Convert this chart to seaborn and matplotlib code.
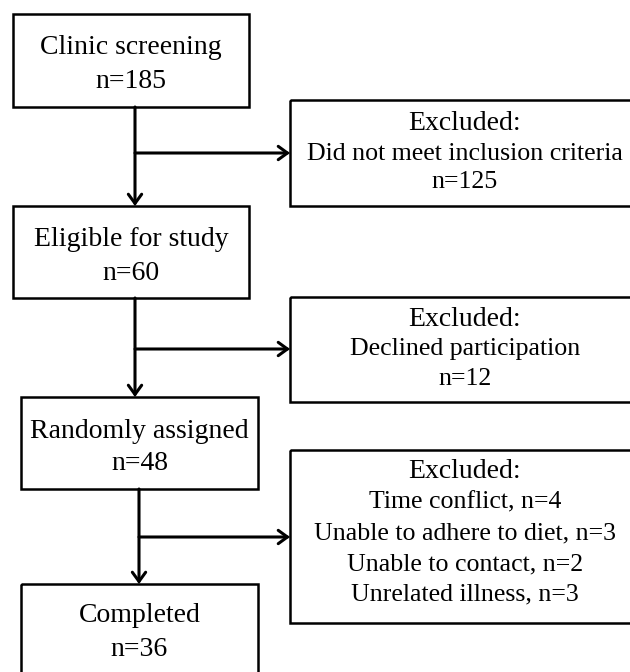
import matplotlib
matplotlib.use("Agg")
import matplotlib.pyplot as plt
from matplotlib.patches import Rectangle
import seaborn as sns

sns.set_theme(style="white")
plt.rcParams['font.family'] = ['Liberation Serif', 'DejaVu Serif']

# ---- data ----
main_labels = ["Clinic screening", "Eligible for study", "Randomly assigned", "Completed"]
main_counts = [185, 60, 48, 36]
excluded_title = "Excluded:"
excluded_reasons = [
    ["Did not meet inclusion criteria"],
    ["Declined participation"],
    ["Time conflict", "Unable to adhere to diet", "Unable to contact", "Unrelated illness"],
]
excluded_counts = [
    [125],
    [12],
    [4, 3, 2, 3],
]

# ---- layout (pixel coordinates, y downwards) ----
main_boxes = [(13, 14, 249, 107), (13, 206, 249, 298), (21, 397, 258, 489), (21, 584, 258, 690)]
main_text_y = [(48, 81), (240, 273), (431, 464), (616, 649)]
excl_boxes = [(290, 100, 645, 206), (290, 297, 645, 402), (290, 450, 645, 623)]
excl_text_y = [[124, 154, 182], [320, 349, 379], [472, 502, 533, 564, 594]]
stem_x = [135, 135, 139]
branch_y = [153, 349, 537]

W, H = 630, 672
fig = plt.figure(figsize=(W / 100, H / 100), dpi=100)
ax = fig.add_axes([0, 0, 1, 1])
ax.set_xlim(0, W)
ax.set_ylim(H, 0)
ax.axis("off")

FS = 20
FS_EX = 18.6
LW = 1.8

def box(b):
    x0, y0, x1, y1 = b
    ax.add_patch(Rectangle((x0, y0), x1 - x0, y1 - y0, fill=False,
                           edgecolor="black", linewidth=LW, clip_on=False))

for b, lab, n, (ty1, ty2) in zip(main_boxes, main_labels, main_counts, main_text_y):
    box(b)
    cx = (b[0] + b[2]) / 2
    ax.text(cx, ty1, lab, ha="center", va="center", fontsize=FS, color="black")
    ax.text(cx, ty2, f"n={n}", ha="center", va="center", fontsize=FS, color="black")

for i, b in enumerate(excl_boxes):
    box(b)
    cx = 465
    reasons = excluded_reasons[i]
    counts = excluded_counts[i]
    if len(reasons) == 1:
        lines = [excluded_title, reasons[0], f"n={counts[0]}"]
    else:
        lines = [excluded_title] + [f"{r}, n={c}" for r, c in zip(reasons, counts)]
    for j, (ly, line) in enumerate(zip(excl_text_y[i], lines)):
        ax.text(cx, ly, line, ha="center", va="center",
                fontsize=FS if j == 0 else FS_EX, color="black")

def arrow(x0, y0, x1, y1):
    ax.annotate("", xy=(x1, y1), xytext=(x0, y0),
                arrowprops=dict(arrowstyle="->,head_length=0.55,head_width=0.4",
                                color="black", lw=2.2, shrinkA=0, shrinkB=0,
                                joinstyle="miter"))

for i in range(3):
    top = main_boxes[i][3]
    bottom = main_boxes[i + 1][1]
    x = stem_x[i]
    arrow(x, top, x, bottom)
    arrow(x, branch_y[i], excl_boxes[i][0], branch_y[i])

fig.savefig("out.png", dpi=100, facecolor="white")
